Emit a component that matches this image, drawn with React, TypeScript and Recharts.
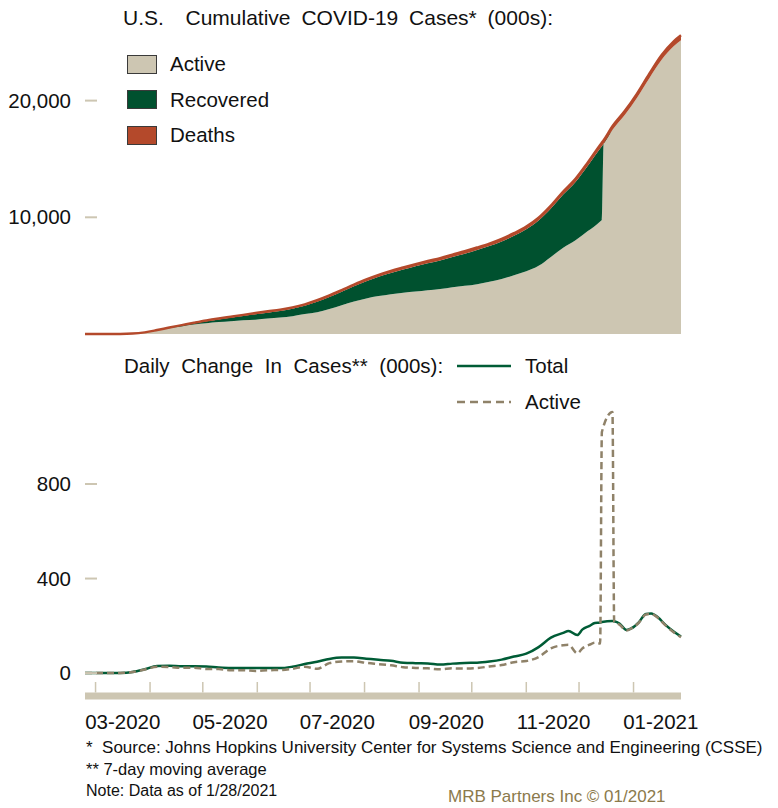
import React from 'react';
import { AreaChart, Area, LineChart, Line, XAxis, YAxis, Legend } from 'recharts';

const FONT = '"Liberation Sans", Arial, Helvetica, sans-serif';
const BEIGE = '#cdc6b2';
const GREEN = '#00512f';
const DEATH = '#b4492b';
const TOTAL = '#005c36';
const ACTIVE_LINE = '#8f8269';
const TICK = '#cdc6b2';
const TXT = '#111';

// ---- Cumulative (000s) ----
const cumDates = [
  '2020-02-24', '2020-03-01', '2020-03-08', '2020-03-15', '2020-03-22', '2020-03-29',
  '2020-04-05', '2020-04-12', '2020-04-19', '2020-04-26', '2020-05-03', '2020-05-10',
  '2020-05-17', '2020-05-24', '2020-05-31', '2020-06-07', '2020-06-14', '2020-06-21',
  '2020-06-28', '2020-07-05', '2020-07-12', '2020-07-19', '2020-07-26', '2020-08-02',
  '2020-08-09', '2020-08-16', '2020-08-23', '2020-08-30', '2020-09-06', '2020-09-13',
  '2020-09-20', '2020-09-27', '2020-10-04', '2020-10-11', '2020-10-18', '2020-10-25',
  '2020-11-01', '2020-11-08', '2020-11-15', '2020-11-22', '2020-11-29', '2020-12-06',
  '2020-12-13', '2020-12-14', '2020-12-15', '2020-12-20', '2020-12-27', '2021-01-03',
  '2021-01-10', '2021-01-17', '2021-01-24', '2021-01-28',
];
const cumActive = [
  0.04, 0.07, 0.5, 3.4, 32.4, 135,
  310, 501, 650, 805, 913, 1021,
  1096, 1183, 1226, 1320, 1414, 1530,
  1715, 1860, 2135, 2470, 2784, 3045,
  3248, 3410, 3534, 3637, 3751, 3856,
  4011, 4125, 4271, 4486, 4711, 5035,
  5369, 5842, 6604, 7394, 8034, 8818,
  9651, 9799, 16297, 17483, 18767, 20249,
  21926, 23502, 24680, 25167,
];
const cumRecovered = [
  0.01, 0.01, 0.01, 0.01, 0.2, 2.6,
  17, 32, 70, 106, 180, 230,
  300, 360, 460, 510, 560, 630,
  700, 900, 1030, 1150, 1300, 1470,
  1650, 1820, 1990, 2170, 2320, 2450,
  2590, 2760, 2930, 3050, 3220, 3380,
  3600, 3880, 4150, 4550, 5000, 5600,
  6250, 6300, 0, 0, 0, 0,
  0, 0, 0, 0,
];
const cumDeaths = [
  0, 0.001, 0.02, 0.06, 0.4, 2.5,
  9.6, 22, 40, 54, 67, 79,
  89, 97, 104, 110, 116, 120,
  125, 130, 135, 140, 146, 155,
  162, 170, 176, 183, 189, 194,
  199, 205, 209, 214, 219, 225,
  231, 238, 246, 256, 266, 282,
  299, 301, 303, 317, 333, 351,
  374, 398, 420, 433,
];

// ---- Daily change, 7-day moving average (000s) ----
const dailyDates = [
  '2020-02-24', '2020-03-01', '2020-03-08', '2020-03-15', '2020-03-22', '2020-03-29',
  '2020-04-05', '2020-04-12', '2020-04-19', '2020-04-26', '2020-05-03', '2020-05-10',
  '2020-05-17', '2020-05-24', '2020-05-31', '2020-06-07', '2020-06-14', '2020-06-21',
  '2020-06-28', '2020-07-05', '2020-07-12', '2020-07-19', '2020-07-26', '2020-08-02',
  '2020-08-09', '2020-08-16', '2020-08-23', '2020-08-30', '2020-09-06', '2020-09-13',
  '2020-09-20', '2020-09-27', '2020-10-04', '2020-10-11', '2020-10-18', '2020-10-25',
  '2020-11-01', '2020-11-08', '2020-11-15', '2020-11-22', '2020-11-25', '2020-11-30',
  '2020-12-03', '2020-12-07', '2020-12-10', '2020-12-13', '2020-12-14', '2020-12-20',
  '2020-12-21', '2020-12-24', '2020-12-28', '2020-12-31', '2021-01-04', '2021-01-08',
  '2021-01-11', '2021-01-15', '2021-01-19', '2021-01-24', '2021-01-28',
];
const dailyTotal = [
  0, 0, 0.1, 0.5, 4.5, 16,
  30, 31, 29, 29, 28, 24,
  22, 22, 21, 21, 21, 27,
  38, 48, 60, 66, 66, 61,
  56, 52, 44, 42, 41, 36,
  40, 43, 44, 49, 57, 70,
  82, 110, 150, 170, 178, 161,
  185, 200, 212, 214, 216, 220,
  219, 210, 182, 190, 215, 250,
  252, 235, 205, 175, 155,
];
const dailyActive = [
  0, 0, 0.1, 0.5, 4.4, 15,
  27, 26, 22, 23, 17, 17,
  12, 12, 9, 12, 13, 18,
  27, 18, 42, 49, 50, 43,
  38, 33, 25, 22, 20, 16,
  20, 19, 21, 28, 34, 46,
  51, 68, 105, 118, 120, 84,
  105, 120, 128, 125, 1020, 1105,
  216, 205, 180, 190, 213, 248,
  250, 233, 203, 172, 152,
];

// ---- Axis ticks & labels ----
const monthTicks = [
  '2020-03-01', '2020-04-01', '2020-05-01', '2020-06-01', '2020-07-01', '2020-08-01',
  '2020-09-01', '2020-10-01', '2020-11-01', '2020-12-01', '2021-01-01',
];
const monthLabels = ['03-2020', '', '05-2020', '', '07-2020', '', '09-2020', '', '11-2020', '', '01-2021'];
const cumTicks = [10000, 20000];
const dailyTicks = [0, 400, 800];

const toT = (s: string) => Date.parse(s + 'T00:00:00Z');
const T0 = toT('2020-02-24');
const T1 = toT('2021-01-28');
const DAY = 86400000;
const PLOT_W = 596;
const PX_PER_MS = PLOT_W / (T1 - T0);

const cumData = cumDates.map((d, i) => ({
  t: toT(d),
  active: cumActive[i],
  recovered: cumRecovered[i],
  deaths: cumDeaths[i],
}));
const dailyData = dailyDates.map((d, i) => ({ t: toT(d), total: dailyTotal[i], active: dailyActive[i] }));
const monthTickTs = monthTicks.map(toT);

const txtStyle = { fontFamily: FONT, fontSize: 20.5, fill: TXT } as const;

const renderYTick = (props: any, side: 'left' | 'right') => {
  const { x, y, payload } = props;
  const label = Number(payload.value).toLocaleString('en-US');
  if (side === 'left') {
    return (
      <g>
        <line x1={x} x2={x + 12} y1={y} y2={y} stroke={TICK} strokeWidth={2} />
        <text x={x - 14} y={y} dy="0.35em" textAnchor="end" style={txtStyle}>{label}</text>
      </g>
    );
  }
  return (
    <g>
      <line x1={x - 12} x2={x} y1={y} y2={y} stroke={TICK} strokeWidth={2} />
      <text x={x + 13} y={y} dy="0.35em" textAnchor="start" style={txtStyle}>{label}</text>
    </g>
  );
};

const renderXTick = (props: any) => {
  const { x, y, payload } = props;
  const idx = monthTickTs.indexOf(payload.value);
  const label = idx >= 0 ? monthLabels[idx] : '';
  return (
    <g>
      <line x1={x} x2={x} y1={y - 14} y2={y - 3.5} stroke={TICK} strokeWidth={1.5} />
      {label ? (
        <text x={x + 15.5 * DAY * PX_PER_MS} y={y + 26} dy="0.35em" textAnchor="middle" style={txtStyle}>
          {label}
        </text>
      ) : null}
    </g>
  );
};

const legendText: React.CSSProperties = {
  fontFamily: FONT,
  fontSize: 20.5,
  color: TXT,
  lineHeight: '24px',
  whiteSpace: 'pre',
  position: 'absolute',
};

const topLegendItems = [
  { name: 'Active', color: BEIGE },
  { name: 'Recovered', color: GREEN },
  { name: 'Deaths', color: DEATH },
];

const TopLegend = () => (
  <div style={{ position: 'relative', width: 778, height: 160 }}>
    <div style={{ ...legendText, fontSize: 21, left: 123, top: 6, wordSpacing: 5 }}>{'U.S.  Cumulative COVID-19 Cases* (000s):'}</div>
    {topLegendItems.map((it, i) => (
      <div key={it.name}>
        <div
          style={{
            position: 'absolute',
            left: 127,
            top: 54.5 + i * 35.5,
            width: 30,
            height: 19,
            background: it.color,
            border: '1px solid #3a3a3a',
            boxSizing: 'border-box',
          }}
        />
        <div style={{ ...legendText, left: 170, top: 52 + i * 35.5 }}>{it.name}</div>
      </div>
    ))}
  </div>
);

const BottomLegend = () => (
  <div style={{ position: 'relative', width: 778, height: 80 }}>
    <div style={{ ...legendText, left: 124, top: 9, wordSpacing: 6 }}>{'Daily Change In Cases** (000s):'}</div>
    <svg style={{ position: 'absolute', left: 457, top: 19 }} width={54} height={4}>
      <line x1={0} x2={54} y1={2} y2={2} stroke={TOTAL} strokeWidth={2.5} />
    </svg>
    <div style={{ ...legendText, left: 525, top: 9 }}>Total</div>
    <svg style={{ position: 'absolute', left: 457, top: 55 }} width={54} height={4}>
      <line x1={0} x2={54} y1={2} y2={2} stroke={ACTIVE_LINE} strokeWidth={2.5} strokeDasharray="8 5" />
    </svg>
    <div style={{ ...legendText, left: 525, top: 45 }}>Active</div>
  </div>
);

export default function App() {
  return (
    <div style={{ position: 'absolute', left: 0, top: 0, width: 778, height: 808, background: '#fff', fontFamily: FONT }}>
      <div style={{ position: 'absolute', left: 0, top: 0 }}>
        <AreaChart width={778} height={345} data={cumData} margin={{ top: 30.6, right: 0, bottom: 11, left: 0 }}>
          <XAxis dataKey="t" type="number" domain={[T0, T1]} hide />
          <YAxis
            yAxisId="l"
            orientation="left"
            width={85}
            type="number"
            domain={[0, 26000]}
            ticks={cumTicks}
            axisLine={false}
            tickLine={false}
            tickSize={0}
            tickMargin={0}
            tick={(p: any) => renderYTick(p, 'left')}
          />
          <YAxis
            yAxisId="r"
            orientation="right"
            width={97}
            type="number"
            domain={[0, 26000]}
            ticks={cumTicks}
            axisLine={false}
            tickLine={false}
            tickSize={0}
            tickMargin={0}
            tick={(p: any) => renderYTick(p, 'right')}
          />
          <Area yAxisId="l" type="monotone" dataKey="active" stackId="c" fill={BEIGE} fillOpacity={1} stroke="none" isAnimationActive={false} />
          <Area yAxisId="l" type="monotone" dataKey="recovered" stackId="c" fill={GREEN} fillOpacity={1} stroke="none" isAnimationActive={false} />
          <Area yAxisId="l" type="monotone" dataKey="deaths" stackId="c" fill={DEATH} fillOpacity={1} stroke={DEATH} strokeWidth={2.5} isAnimationActive={false} />
          <Legend
            layout="horizontal"
            verticalAlign="middle"
            align="center"
            content={() => <TopLegend />}
            wrapperStyle={{ position: 'absolute', left: 0, top: 0, width: 778, height: 160 }}
          />
        </AreaChart>
      </div>

      <div style={{ position: 'absolute', left: 0, top: 345 }}>
        <LineChart width={778} height={400} data={dailyData} margin={{ top: 44.5, right: 0, bottom: 0, left: 0 }}>
          <XAxis
            dataKey="t"
            type="number"
            domain={[T0, T1]}
            ticks={monthTickTs}
            interval={0}
            height={49}
            axisLine={{ stroke: TICK, strokeWidth: 7 }}
            tickLine={false}
            tickSize={0}
            tickMargin={0}
            tick={renderXTick}
          />
          <YAxis
            yAxisId="l"
            orientation="left"
            width={85}
            type="number"
            domain={[-97, 1200]}
            ticks={dailyTicks}
            axisLine={false}
            tickLine={false}
            tickSize={0}
            tickMargin={0}
            tick={(p: any) => renderYTick(p, 'left')}
          />
          <YAxis
            yAxisId="r"
            orientation="right"
            width={97}
            type="number"
            domain={[-97, 1200]}
            ticks={dailyTicks}
            axisLine={false}
            tickLine={false}
            tickSize={0}
            tickMargin={0}
            tick={(p: any) => renderYTick(p, 'right')}
          />
          <Line yAxisId="l" type="monotone" dataKey="total" stroke={TOTAL} strokeWidth={2.5} dot={false} isAnimationActive={false} />
          <Line yAxisId="l" type="monotone" dataKey="active" stroke={ACTIVE_LINE} strokeWidth={2.5} strokeDasharray="7 4" dot={false} isAnimationActive={false} />
          <Legend
            layout="horizontal"
            verticalAlign="middle"
            align="center"
            content={() => <BottomLegend />}
            wrapperStyle={{ position: 'absolute', left: 0, top: 0, width: 778, height: 80 }}
          />
        </LineChart>
      </div>

      <div
        style={{
          position: 'absolute',
          left: 86,
          top: 737,
          fontFamily: FONT,
          fontSize: 17,
          lineHeight: '21.5px',
          color: TXT,
          whiteSpace: 'pre',
        }}
      >
        <div>{'*  Source: Johns Hopkins University Center for Systems Science and Engineering (CSSE)'}</div>
        <div style={{ fontSize: 16.5 }}>{'** 7-day moving average'}</div>
        <div style={{ fontSize: 16 }}>{'Note: Data as of 1/28/2021'}</div>
      </div>
      <div
        style={{
          position: 'absolute',
          left: 448,
          top: 786,
          fontFamily: FONT,
          fontSize: 17,
          lineHeight: '22px',
          color: '#8b7a4c',
          whiteSpace: 'pre',
        }}
      >
        {'MRB Partners Inc © 01/2021'}
      </div>
    </div>
  );
}
